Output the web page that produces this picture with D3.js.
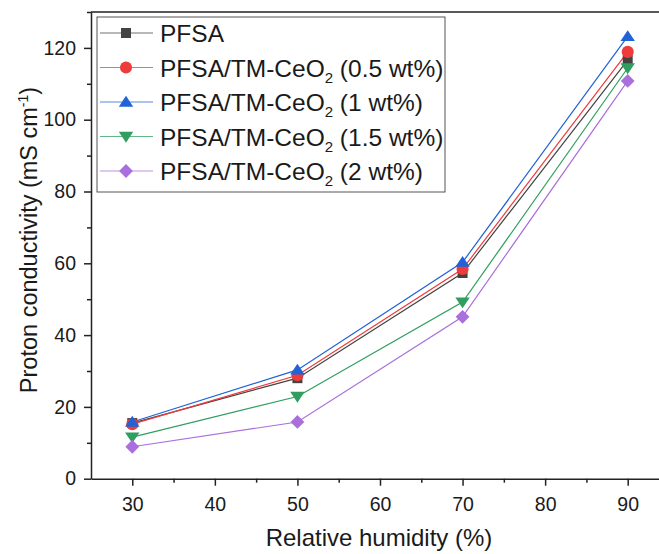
<!DOCTYPE html>
<html>
<head>
<meta charset="utf-8">
<script src="https://cdn.jsdelivr.net/npm/d3@7"></script>
<style>
  body { margin: 0; background: #fff; }
  text { font-family: Arial, "Liberation Sans", sans-serif; fill: #1a1a1a; }
</style>
</head>
<body>
<div id="chart"></div>
<script>
var width = 659, height = 554;

// data
var humidity = [30, 50, 70, 90];
var seriesNames = ["PFSA", "PFSA/TM-CeO2 (0.5 wt%)", "PFSA/TM-CeO2 (1 wt%)", "PFSA/TM-CeO2 (1.5 wt%)", "PFSA/TM-CeO2 (2 wt%)"];
var pfsa = [15.5, 28.0, 57.3, 116.6];
var ceo05 = [15.2, 28.8, 58.4, 118.9];
var ceo1 = [15.8, 30.3, 60.3, 123.2];
var ceo15 = [11.6, 22.9, 49.2, 114.4];
var ceo2 = [8.9, 15.8, 45.1, 110.8];
var xTicks = [30, 40, 50, 60, 70, 80, 90];
var yTicks = [0, 20, 40, 60, 80, 100, 120];

var colors = ["#434343", "#ee3b3b", "#1f63d6", "#2f9e5e", "#a96fdc"];
var symbols = ["square", "circle", "triangle", "tridown", "diamond"];
var allSeries = [pfsa, ceo05, ceo1, ceo15, ceo2];

var margin = {left: 91, top: 12, bottom: 478.7};

var x = d3.scaleLinear().domain([25, 95]).range([margin.left, margin.left + 70 * 8.257]);
var y = d3.scaleLinear().domain([0, 130]).range([margin.bottom, margin.top]);

var svg = d3.select('#chart').append('svg')
    .attr('width', width)
    .attr('height', height);

// top border of frame (right side falls outside picture)
svg.append('line')
    .attr('x1', x(25)).attr('x2', x(95))
    .attr('y1', y(130)).attr('y2', y(130))
    .attr('stroke', '#222').attr('stroke-width', 1.5);

// x axis
var xAxis = svg.append('g')
    .attr('transform', 'translate(0,' + y(0) + ')')
    .call(d3.axisBottom(x).tickValues(xTicks).tickSize(7).tickPadding(11).tickSizeOuter(0));
xAxis.select('.domain').attr('stroke', '#222').attr('stroke-width', 1.5);
xAxis.selectAll('.tick line').attr('stroke', '#222').attr('stroke-width', 1.5);
xAxis.selectAll('text').attr('font-size', 19.5).attr('fill', '#1a1a1a')
    .attr('font-family', 'Arial, "Liberation Sans", sans-serif');
svg.append('g')
    .attr('transform', 'translate(0,' + y(0) + ')')
    .call(d3.axisBottom(x).tickValues([35, 45, 55, 65, 75, 85, 95]).tickSize(4).tickFormat(''))
    .call(function(g){ g.select('.domain').remove(); })
    .selectAll('line').attr('stroke', '#222').attr('stroke-width', 1.5);

// y axis
var yAxis = svg.append('g')
    .attr('transform', 'translate(' + x(25) + ',0)')
    .call(d3.axisLeft(y).tickValues(yTicks).tickSize(7).tickPadding(8).tickSizeOuter(0));
yAxis.select('.domain').attr('stroke', '#222').attr('stroke-width', 1.5);
yAxis.selectAll('.tick line').attr('stroke', '#222').attr('stroke-width', 1.5);
yAxis.selectAll('text').attr('font-size', 19.5).attr('fill', '#1a1a1a')
    .attr('font-family', 'Arial, "Liberation Sans", sans-serif');
svg.append('g')
    .attr('transform', 'translate(' + x(25) + ',0)')
    .call(d3.axisLeft(y).tickValues([10, 30, 50, 70, 90, 110, 130]).tickSize(4).tickFormat(''))
    .call(function(g){ g.select('.domain').remove(); })
    .selectAll('line').attr('stroke', '#222').attr('stroke-width', 1.5);

// axis titles
svg.append('text')
    .attr('x', 379).attr('y', 546)
    .attr('text-anchor', 'middle')
    .attr('font-size', 24)
    .text('Relative humidity (%)');

var yt = svg.append('text')
    .attr('transform', 'translate(37,240) rotate(-90)')
    .attr('text-anchor', 'middle')
    .attr('font-size', 23.5);
yt.append('tspan').text('Proton conductivity (mS cm');
yt.append('tspan').attr('font-size', 14).attr('dy', -9).text('-1');
yt.append('tspan').attr('dy', 9).text(')');

function markerPath(i) {
  var s = symbols[i];
  if (s === "square") return d3.symbol().type(d3.symbolSquare).size(100)();
  if (s === "circle") return d3.symbol().type(d3.symbolCircle).size(115)();
  if (s === "diamond") return d3.symbol().type(d3.symbolSquare).size(95)();
  // triangles, slightly wide
  var w = 7.2, h = 6.2;
  return 'M0,' + (-h) + 'L' + w + ',' + (h * 0.75) + 'L' + (-w) + ',' + (h * 0.75) + 'Z';
}
function markerRotate(i) {
  if (symbols[i] === "tridown") return ' rotate(180)';
  if (symbols[i] === "diamond") return ' rotate(45)';
  return '';
}

var line = d3.line()
    .x(function(d, i){ return x(humidity[i]); })
    .y(function(d){ return y(d); });

allSeries.forEach(function(s, i){
  svg.append('path')
    .datum(s)
    .attr('d', line)
    .attr('fill', 'none')
    .attr('stroke', colors[i])
    .attr('stroke-width', 1.2);
});
allSeries.forEach(function(s, i){
  svg.selectAll('.m' + i)
    .data(s)
    .enter()
    .append('path')
    .attr('class', 'm' + i)
    .attr('d', markerPath(i))
    .attr('transform', function(d, j){
      return 'translate(' + x(humidity[j]) + ',' + y(d) + ')' + markerRotate(i);
    })
    .attr('fill', colors[i]);
});

// legend
var legend = svg.append('g');
legend.append('rect')
    .attr('x', 97).attr('y', 17)
    .attr('width', 348).attr('height', 175)
    .attr('fill', '#fff')
    .attr('stroke', '#555').attr('stroke-width', 1);

seriesNames.forEach(function(name, i){
  var ly = 33 + i * 34.5;
  legend.append('line')
    .attr('x1', 100).attr('x2', 153)
    .attr('y1', ly).attr('y2', ly)
    .attr('stroke', colors[i]).attr('stroke-width', 1.2).attr('stroke-opacity', 0.75);
  legend.append('path')
    .attr('d', markerPath(i))
    .attr('transform', 'translate(126,' + ly + ')' + markerRotate(i))
    .attr('fill', colors[i]);
  var t = legend.append('text')
    .attr('x', 160).attr('y', ly + 9)
    .attr('font-size', 24.5);
  if (name.indexOf('CeO2') >= 0) {
    var parts = name.split('CeO2');
    t.append('tspan').text(parts[0] + 'CeO');
    t.append('tspan').attr('font-size', 15).attr('dy', 6).text('2');
    t.append('tspan').attr('dy', -6).text(parts[1]);
  } else {
    t.text(name);
  }
});
</script>
</body>
</html>
